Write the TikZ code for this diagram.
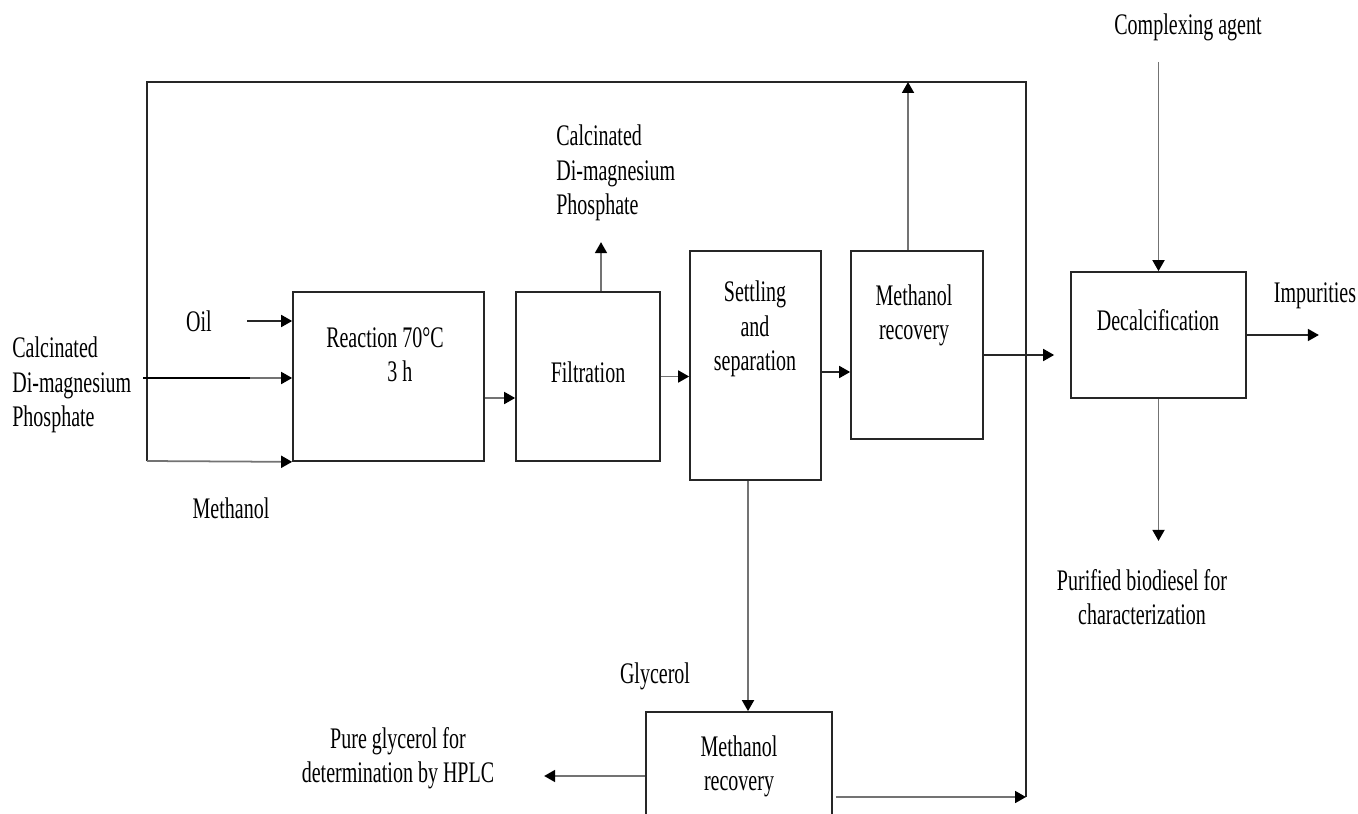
\documentclass[tikz,border=0pt]{standalone}
\usepackage{fontspec}
\setmainfont{Liberation Serif}[FakeStretch=0.67]
\usetikzlibrary{arrows.meta,calc}

\begin{document}
\begin{tikzpicture}[
  x=0.02cm, y=-0.02cm,
  every node/.style={font=\fontsize{17}{19.5}\selectfont},
  txt/.style={align=center, inner sep=0pt},
  proc/.style={draw=black!85, line width=1pt, minimum width=#1},
  line/.style={draw=black!85, line width=1pt},
  flow/.style={line, -{Triangle[length=2.2mm,width=2.4mm,color=black]}},
  flowg/.style={flow, draw=black!55},
]
\useasboundingbox (0,0) rectangle (1358,814);
% Process boxes (pixel grid of the sheet)
\node[proc=3.82cm, minimum height=3.38cm] (react)  at (388.5,376.5) {};
\node[proc=2.88cm, minimum height=3.38cm] (filt)   at (588,376.5) {};
\node[proc=2.62cm, minimum height=4.58cm] (settle) at (755.5,365.5) {};
\node[proc=2.64cm, minimum height=3.76cm] (mr)     at (917,345) {};
\node[proc=3.5cm,  minimum height=2.52cm] (decal)  at (1158.5,335) {};
\node[proc=3.72cm, minimum height=2.56cm] (mrlow)  at (739,776) {};
% Texts in the boxes
\node[txt] (reactT)  at (385,355) {Reaction 70°C\\\quad 3 h};
\node[txt] (filtT)   at (588,372) {Filtration};
\node[txt] (settleT) at (755,329) {Settling\\and\\separation};
\node[txt] (mrT)     at (914,315) {Methanol\\recovery};
\node[txt] (decalT)  at (1158,320) {Decalcification};
\node[txt] (mrlowT)  at (739,766) {Methanol\\recovery};
% Stream labels
\node[txt] (oil) at (199,321) {Oil};
\node[txt, align=left, anchor=west] (cdpin) at (12,385) {Calcinated\\Di-magnesium\\Phosphate};
\node[txt] (meoh) at (231,508) {Methanol};
\node[txt, align=left, anchor=west] (cdpout) at (556,173) {Calcinated\\Di-magnesium\\Phosphate};
\node[txt] (cagent) at (1188,27) {Complexing agent};
\node[txt] (impur) at (1315,296) {Impurities};
\node[txt] (biod) at (1142,597) {Purified biodiesel for\\characterization};
\node[txt] (glyc) at (655,676) {Glycerol};
\node[txt] (pureg) at (398,758) {Pure glycerol for\\determination by HPLC};
% Recycle loop corners
\coordinate (loopTL) at (147,82);
\coordinate (loopTR) at (1026,82);
\coordinate (loopBL) at (147,461);
\coordinate (loopBR) at (1026,797);
\coordinate (cdpstart) at (143,378);
\coordinate (cdpmid) at (250,378);
\coordinate (castart) at (1158.5,62);
% Connectors
\draw[line] (loopBR) -- (loopTR) -- (loopTL) -- (loopBL);
\draw[flowg] (loopBL) -- (react.south west);
\draw[flow] ($(oil.east)+(35,0)$) -- (react.west |- oil);
\draw[line, draw=black] (cdpstart) -- (cdpmid);
\draw[flowg] (cdpmid) -- (react.west |- cdpmid);
\draw[flowg] ($(react.east)+(0,21.5)$) -- ($(filt.west)+(0,21.5)$);
\draw[flowg] ($(filt.north)+(13,0)$) -- ++(0,-49);
\draw[flowg] (filt.east) -- (filt.east -| settle.west);
\draw[flow] ($(settle.east)+(0,6.5)$) coordinate (s1) -- (s1 -| mr.west);
\draw[flowg] ($(mr.north)+(-9,0)$) coordinate (m1) -- (m1 |- loopTL);
\draw[flow] ($(mr.east)+(0,10)$) coordinate (m2) -- ($(m2 -| decal.west)+(-16,0)$);
\draw[flowg] (castart) -- (decal.north);
\draw[flow] (decal.east) -- ++(72,0);
\draw[flowg] (decal.south) -- ++(0,142);
\draw[flowg] ($(settle.south)+(-7.5,0)$) -- ($(mrlow.north)+(9,0)$);
\draw[flowg] (mrlow.west) -- ++(-101,0);
\draw[flowg] ($(mrlow.east)+(3,21)$) -- (loopBR);
\end{tikzpicture}
\end{document}
